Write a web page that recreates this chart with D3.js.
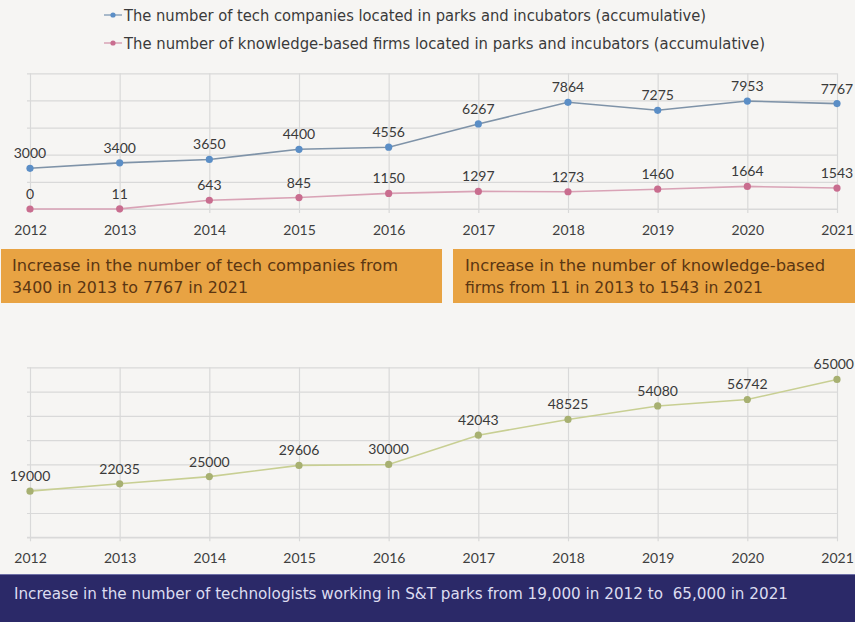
<!DOCTYPE html>
<html>
<head>
<meta charset="utf-8">
<script src="https://cdn.jsdelivr.net/npm/d3@7"></script>
<style>
  html, body { margin: 0; padding: 0; background: #f6f5f3; }
  svg { display: block; }
  .num { font-family: Lato, "Open Sans", sans-serif; font-size: 14px; fill: #3a3a3a; }
  .narrow { font-family: "Liberation Sans Narrow", "DejaVu Sans Condensed", "DejaVu Sans", sans-serif; font-stretch: condensed; white-space: pre; }
</style>
</head>
<body>
<svg id="chart" width="855" height="622"></svg>
<script>
// Yearly series
const years = ["2012","2013","2014","2015","2016","2017","2018","2019","2020","2021"];
const techCompanies = [3000, 3400, 3650, 4400, 4556, 6267, 7864, 7275, 7953, 7767];
const knowledgeFirms = [0, 11, 643, 845, 1150, 1297, 1273, 1460, 1664, 1543];
const technologists = [19000, 22035, 25000, 29606, 30000, 42043, 48525, 54080, 56742, 65000];

const legendLabels = [
  "The number of tech companies located in parks and incubators (accumulative)",
  "The number of knowledge-based firms located in parks and incubators (accumulative)"
];
const boxNotes = [
  ["Increase in the number of tech companies from", "3400 in 2013 to 7767 in 2021"],
  ["Increase in the number of knowledge-based", "firms from 11 in 2013 to 1543 in 2021"]
];
const bannerNote = "Increase in the number of technologists working in S&T parks from 19,000 in 2012 to  65,000 in 2021";

const svg = d3.select("#chart");
const gridColor = "#d9d9d9";
const W = 855;

const x = d3.scalePoint().domain(years).range([30, 837]).padding(0);

function drawPanel(cfg) {
  const y = d3.scaleLinear().domain(cfg.domain).range([cfg.bottom, cfg.top]);
  const g = svg.append("g");

  // horizontal gridlines
  const yAxis = d3.axisLeft(y).tickValues(d3.range(cfg.domain[0], cfg.domain[1] + 1, cfg.step))
    .tickSize(-(837 - 27)).tickFormat("");
  g.append("g").attr("transform", "translate(27,0)").call(yAxis)
    .call(s => s.select(".domain").remove())
    .call(s => s.selectAll("line").attr("stroke", gridColor).attr("stroke-width", 1.2));

  // vertical gridlines per year + year labels
  const xAxis = d3.axisBottom(x).tickSize(-(cfg.bottom - cfg.top)).tickSizeOuter(0).tickPadding(0);
  g.append("g").attr("transform", `translate(0,${cfg.bottom})`).call(xAxis)
    .call(s => s.select(".domain").attr("stroke", gridColor).attr("stroke-width", 1.2).attr("d", `M27,0H837`))
    .call(s => s.selectAll(".tick line").attr("stroke", gridColor).attr("stroke-width", 1.2).attr("y2", -(cfg.bottom - cfg.top)).attr("y1", 4))
    .call(s => s.selectAll(".tick text").attr("class", "num").attr("y", cfg.yearDy).attr("dy", 0)
      .style("fill", "#3f3f3f").style("font-size", "14px"));

  cfg.series.forEach(ser => {
    const line = d3.line().x((d, i) => x(years[i])).y(d => y(d));
    g.append("path").datum(ser.values).attr("d", line)
      .attr("fill", "none").attr("stroke", ser.line).attr("stroke-width", 1.6);
    g.selectAll(null).data(ser.values).enter().append("circle")
      .attr("cx", (d, i) => x(years[i])).attr("cy", d => y(d)).attr("r", 3.6)
      .attr("fill", ser.marker);
    g.selectAll(null).data(ser.values).enter().append("text")
      .attr("class", "num")
      .attr("x", (d, i) => x(years[i])).attr("y", d => y(d) - 10)
      .attr("text-anchor", "middle")
      .text(d => d)
      .each(function () {
        // keep value labels inside the page edge
        const bb = this.getBBox();
        if (bb.x + bb.width > W - 1) {
          d3.select(this).attr("x", +d3.select(this).attr("x") - (bb.x + bb.width - (W - 1)));
        }
      });
  });
}

// top panel: companies and firms
drawPanel({
  domain: [0, 10000], step: 2000, top: 73.3, bottom: 209, yearDy: 26,
  series: [
    { values: techCompanies, line: "#7f93a8", marker: "#5b8ec6" },
    { values: knowledgeFirms, line: "#d9a3b6", marker: "#c96d8f" }
  ]
});

// bottom panel: technologists
drawPanel({
  domain: [0, 70000], step: 10000, top: 367.3, bottom: 537.3, yearDy: 26,
  series: [
    { values: technologists, line: "#c8cf93", marker: "#a7b071" }
  ]
});

// legend
const legendColors = [["#8ea5bd", "#5b8ec6"], ["#d9a3b6", "#c96d8f"]];
const legendWidths = [582, 641];
legendLabels.forEach((lab, i) => {
  const ly = 15 + i * 28;
  svg.append("line").attr("x1", 104).attr("x2", 122).attr("y1", ly).attr("y2", ly)
    .attr("stroke", legendColors[i][0]).attr("stroke-width", 1.5);
  svg.append("circle").attr("cx", 113).attr("cy", ly).attr("r", 2.6).attr("fill", legendColors[i][1]);
  svg.append("text").attr("class", "narrow").attr("x", 124).attr("y", ly + 5.5)
    .attr("font-size", 16).attr("fill", "#3a3a3a")
    .attr("textLength", legendWidths[i]).attr("lengthAdjust", "spacingAndGlyphs")
    .text(lab);
});

// orange notes
const boxes = [{ x: 1, w: 441, tx: 12, widths: [386, 236] }, { x: 453, w: 402, tx: 465, widths: [360, 298] }];
boxes.forEach((b, i) => {
  svg.append("rect").attr("x", b.x).attr("y", 249).attr("width", b.w).attr("height", 54)
    .attr("fill", "#e8a343");
  boxNotes[i].forEach((t, j) => {
    svg.append("text").attr("class", "narrow").attr("x", b.tx).attr("y", 271 + j * 22)
      .attr("font-size", 16).attr("fill", "#5b3612")
      .attr("textLength", b.widths[j]).attr("lengthAdjust", "spacingAndGlyphs")
      .text(t);
  });
});

// navy banner
svg.append("rect").attr("x", 0).attr("y", 574).attr("width", 855).attr("height", 48).attr("fill", "#2b2968");
svg.append("line").attr("x1", 0).attr("x2", 855).attr("y1", 574.5).attr("y2", 574.5)
  .attr("stroke", "#6e6fa6").attr("stroke-width", 1);
svg.append("text").attr("class", "narrow").attr("x", 14).attr("y", 599)
  .attr("font-size", 15.5).attr("fill", "#dcdcf0")
  .attr("textLength", 774).attr("lengthAdjust", "spacingAndGlyphs")
  .text(bannerNote);
</script>
</body>
</html>
